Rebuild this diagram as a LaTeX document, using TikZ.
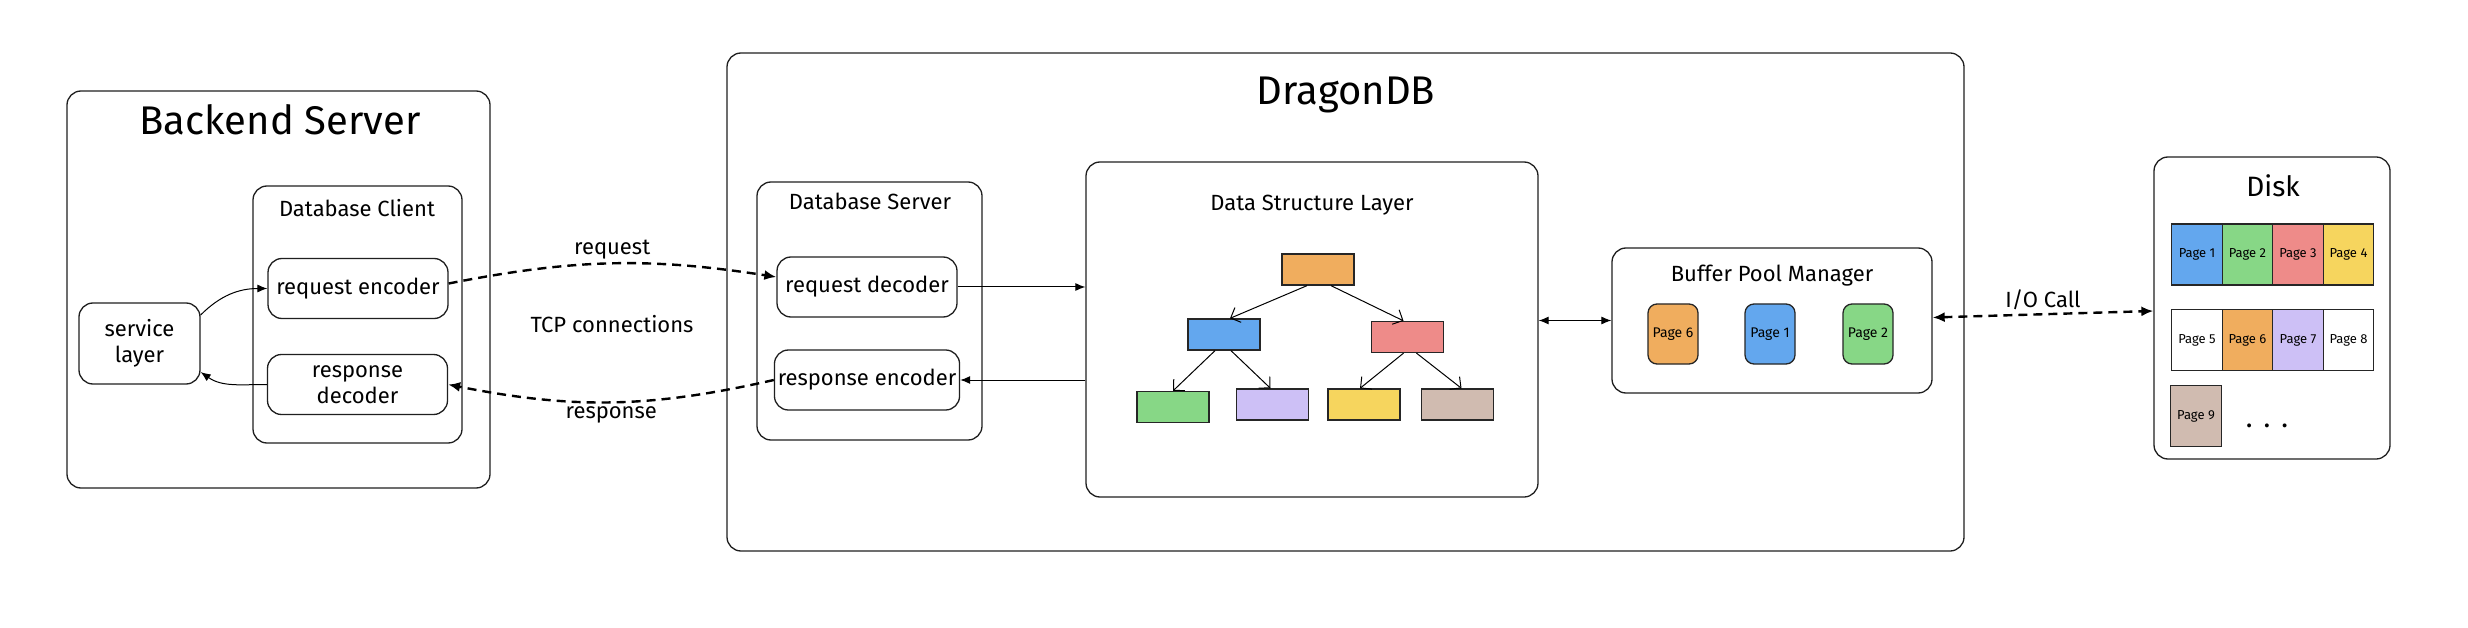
\documentclass[tikz,border=0pt]{standalone}
\usepackage{fontspec}
\setmainfont{Fira Sans}
\usepackage{tikz}
\usetikzlibrary{arrows.meta, positioning}

\definecolor{pgorange}{HTML}{F0AD5E}
\definecolor{pgblue}{HTML}{63A7EE}
\definecolor{pgred}{HTML}{EE8B89}
\definecolor{pggreen}{HTML}{87D786}
\definecolor{pgpurple}{HTML}{CDC0F6}
\definecolor{pgyellow}{HTML}{F6D55E}
\definecolor{pgbrown}{HTML}{D0BBB0}

\begin{document}
\begin{tikzpicture}[x=1pt, y=-1pt, node distance=50.5pt]
\tikzstyle{outerbox} = [rectangle, rounded corners=14pt, draw=black!88, line width=1.3pt]
\tikzstyle{block} = [rectangle, rounded corners=14pt, draw=black!88, line width=1.3pt, minimum width=180pt, minimum height=60pt, align=center, font=\fontsize{22}{26}\selectfont]
\tikzstyle{bigtitle} = [font=\fontsize{40}{48}\selectfont]
\tikzstyle{boxtitle} = [font=\fontsize{22}{26}\selectfont]
\tikzstyle{linktext} = [font=\fontsize{22}{26}\selectfont]
\tikzstyle{treebox} = [rectangle, draw=black!85, line width=1.3pt, minimum width=72pt, minimum height=31pt]
\tikzstyle{bufpage} = [rectangle, rounded corners=9pt, draw=black!85, line width=1.3pt, minimum width=50pt, minimum height=60pt, inner sep=0pt, font=\fontsize{14}{16}\selectfont]
\tikzstyle{diskpage} = [rectangle, draw=black!85, line width=1.3pt, minimum width=50.5pt, minimum height=61pt, inner sep=0pt, font=\fontsize{13}{15}\selectfont]
\tikzstyle{line} = [draw, line width=1pt, -{Latex[length=10pt, width=8pt]}]
\tikzstyle{wire} = [draw, line width=2.4pt, dash pattern=on 9pt off 6pt, -{Latex[length=12pt, width=10pt]}]
\tikzstyle{branch} = [draw, line width=1pt, -{Straight Barb[length=8pt, width=16pt]}]

\path [fill=white, use as bounding box] (0,0) rectangle (2468,628);

% backend side
\node (backend) [outerbox, minimum width=423pt, minimum height=397pt] at (278.5,289.5) {};
\node (backendname) [bigtitle, anchor=base] at (280,135) {Backend Server};
\node (client) [outerbox, minimum width=209pt, minimum height=257pt] at (357.5,314.5) {};
\node (clientname) [boxtitle, anchor=base] at (357,217) {Database Client};
\node (reqenc) [block] at (358,288.5) {request encoder};
\node (resdec) [block] at (357.5,384.5) {response\\decoder};
\node (service) [block, minimum width=121pt, minimum height=81pt] at (139.5,343.5) {service\\layer};

% database
\node (dragon) [outerbox, minimum width=1237pt, minimum height=498pt] at (1345.5,302) {};
\node (dragonname) [bigtitle, anchor=base] at (1346,105) {DragonDB};
\node (server) [outerbox, minimum width=225pt, minimum height=258pt] at (869.5,311) {};
\node (servername) [boxtitle, anchor=base] at (870,210) {Database Server};
\node (reqdec) [block] at (867,287) {request decoder};
\node (resenc) [block] at (867,380) {response encoder};

\node (dsl) [outerbox, minimum width=452pt, minimum height=335pt] at (1312,329.5) {};
\node (dslname) [boxtitle, anchor=base] at (1312,211) {Data Structure Layer};
\node (root) [treebox, fill=pgorange] at (1318,269.5) {};
\node (lnode) [treebox, fill=pgblue] at (1224,334.5) {};
\node (rnode) [treebox, fill=pgred] at (1407.5,337) {};
\node (leaf1) [treebox, fill=pggreen] at (1173,407) {};
\node (leaf2) [treebox, fill=pgpurple] at (1272.5,404.5) {};
\node (leaf3) [treebox, fill=pgyellow] at (1364,404.5) {};
\node (leaf4) [treebox, fill=pgbrown] at (1457.5,404.5) {};

\node (bpm) [outerbox, minimum width=320pt, minimum height=145pt] at (1772,320.5) {};
\node (bpmname) [boxtitle, anchor=base] at (1772,282) {Buffer Pool Manager};
\node (bp6) [bufpage, fill=pgorange] at (1673,334) {Page 6};
\node (bp1) [bufpage, fill=pgblue, right of=bp6, xshift=46.5pt] {Page 1};
\node (bp2) [bufpage, fill=pggreen, right of=bp1, xshift=47.5pt] {Page 2};

% disk
\node (disk) [outerbox, minimum width=236pt, minimum height=302pt] at (2272,308) {};
\node (diskname) [font=\fontsize{28}{32}\selectfont, anchor=base] at (2273,197) {Disk};
\node (d1) [diskpage, fill=pgblue] at (2197,254.5) {Page 1};
\node (d2) [diskpage, fill=pggreen, right of=d1] {Page 2};
\node (d3) [diskpage, fill=pgred, right of=d2] {Page 3};
\node (d4) [diskpage, fill=pgyellow, right of=d3] {Page 4};
\node (d5) [diskpage, fill=white] at (2197,340) {Page 5};
\node (d6) [diskpage, fill=pgorange, right of=d5] {Page 6};
\node (d7) [diskpage, fill=pgpurple, right of=d6] {Page 7};
\node (d8) [diskpage, fill=white, right of=d7] {Page 8};
\node (d9) [diskpage, fill=pgbrown] at (2196,416) {Page 9};
\node (more) [font=\fontsize{28}{32}\selectfont, anchor=base] at (2267,427) {.\hspace{11pt}.\hspace{11pt}.};

% connections
\path [line] (service.25) to[out=45, in=180] (reqenc.west);
\path [line] (resdec.west) to[out=180, in=-35] (service.-25);
\path [wire] ([yshift=5pt]reqenc.east) to[bend left=10] node [linktext, above] {request} ([yshift=10pt]reqdec.west);
\path [wire] (resenc.west) to[bend left=12] node [linktext, below] {response} (resdec.east);
\node (tcp) [linktext, anchor=base] at (612,332) {TCP connections};

\path [line] (reqdec.east) -- (reqdec.east -| dsl.west);
\path [line] (resenc.east -| dsl.west) -- (resenc.east);
\path [line, {Latex[length=10pt, width=8pt]}-{Latex[length=10pt, width=8pt]}] (bpm.west -| dsl.east) -- (bpm.west);
\path [wire, {Latex[length=12pt, width=10pt]}-{Latex[length=12pt, width=10pt]}] ([yshift=3pt]bpm.east) -- node [linktext, above] {I/O Call} ([yshift=-3pt]disk.west);

\path [branch] ([xshift=-11pt]root.south) -- ([xshift=6pt]lnode.north);
\path [branch] ([xshift=13pt]root.south) -- ([xshift=-4pt]rnode.north);
\path [branch] ([xshift=-9pt]lnode.south) -- (leaf1.north);
\path [branch] ([xshift=7pt]lnode.south) -- ([xshift=-2pt]leaf2.north);
\path [branch] ([xshift=-4pt]rnode.south) -- ([xshift=-4pt]leaf3.north);
\path [branch] ([xshift=9pt]rnode.south) -- ([xshift=4pt]leaf4.north);

\end{tikzpicture}
\end{document}
